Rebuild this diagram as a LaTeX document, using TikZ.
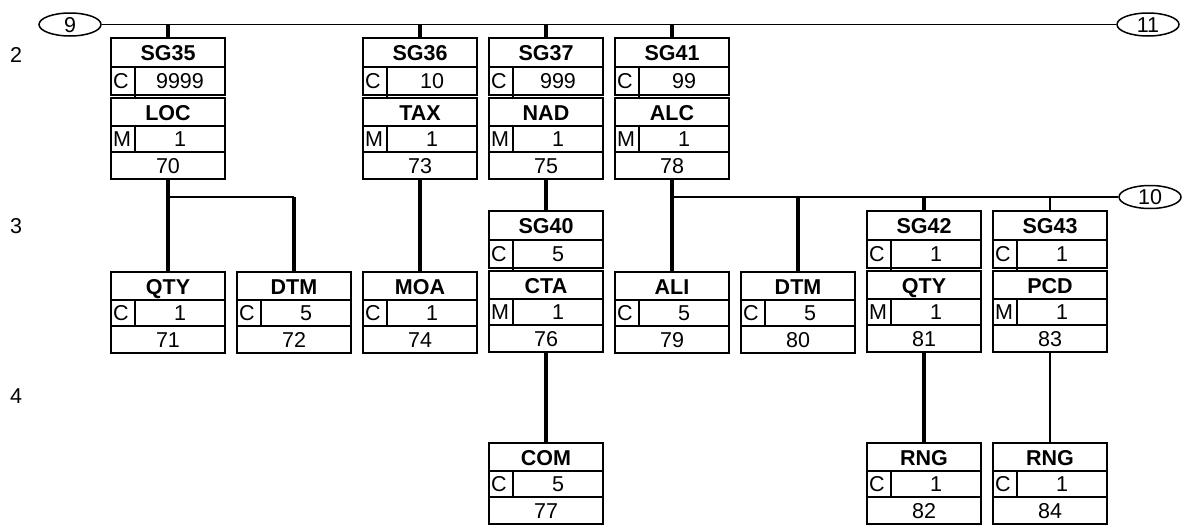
\documentclass[tikz,border=0pt]{standalone}
\usepackage{fontspec}
\setmainfont{Liberation Sans}
\usetikzlibrary{shapes.geometric}
\tikzset{
  frame/.style={draw, line width=1.6pt, minimum width=114pt, inner sep=0pt, outer sep=0pt, anchor=north west},
  segframe/.style={frame, minimum height=81pt},
  sgframe/.style={frame, minimum height=57pt},
  rule/.style={line width=1.5pt},
  boldlabel/.style={font=\fontsize{21.5}{24}\selectfont\bfseries, inner sep=0pt, text height=15.4pt, text depth=0pt},
  plainlabel/.style={font=\fontsize{21.5}{24}\selectfont, inner sep=0pt, text height=15.4pt, text depth=0pt},
  thickconn/.style={line width=3.6pt},
  thinconn/.style={line width=1.5pt},
  marker/.style={ellipse, draw, line width=1.5pt, minimum width=62pt, minimum height=23pt, inner sep=0pt, font=\fontsize{21.5}{24}\selectfont, text height=15.4pt, text depth=0pt}
}
\newcommand\segment[7]{%
  \node[segframe] (#1) at (#2,#3) {};
  \draw[rule] (#1.north west) ++(0,28) -- ++(114,0);
  \draw[rule] (#1.north west) ++(0,54) -- ++(114,0);
  \draw[rule] (#1.north west) ++(24,28) -- ++(0,26);
  \path (#1.north west) ++(57,14.5) node[boldlabel] {#4};
  \path (#1.north west) ++(2,41) node[plainlabel, anchor=west] {#5};
  \path (#1.north west) ++(69,41) node[plainlabel] {#6};
  \path (#1.north west) ++(57,67.5) node[plainlabel] {#7};
}
\newcommand\group[6]{%
  \node[sgframe] (#1) at (#2,#3) {};
  \draw[rule] (#1.north west) ++(0,29) -- ++(114,0);
  \draw[rule] (#1.north west) ++(24,29) -- ++(0,30);
  \path (#1.north west) ++(57,14.5) node[boldlabel] {#4};
  \path (#1.north west) ++(2,43) node[plainlabel, anchor=west] {#5};
  \path (#1.north west) ++(69,43) node[plainlabel] {#6};
}
\begin{document}
\begin{tikzpicture}[x=1pt, y=-1pt]
\useasboundingbox (0,0) rectangle (1182,525);
% level labels
\node[plainlabel] (lv2) at (16,55) {2};
\node[plainlabel] (lv3) at (16,226) {3};
\node[plainlabel] (lv4) at (16,396) {4};
% markers
\node[marker] (m9) at (70,24.5) {9};
\node[marker] (m11) at (1148,24.5) {11};
\node[marker] (m10) at (1150,197) {10};
% level 2
\group{sg35}{111}{38}{SG35}{C}{9999}
\segment{loc}{111}{98}{LOC}{M}{1}{70}
\group{sg36}{363}{38}{SG36}{C}{10}
\segment{tax}{363}{98}{TAX}{M}{1}{73}
\group{sg37}{489}{38}{SG37}{C}{999}
\segment{nad}{489}{98}{NAD}{M}{1}{75}
\group{sg41}{615}{38}{SG41}{C}{99}
\segment{alc}{615}{98}{ALC}{M}{1}{78}
% level 3
\segment{qty71}{111}{272}{QTY}{C}{1}{71}
\segment{dtm72}{237}{272}{DTM}{C}{5}{72}
\segment{moa74}{363}{272}{MOA}{C}{1}{74}
\group{sg40}{489}{211}{SG40}{C}{5}
\segment{cta76}{489}{271}{CTA}{M}{1}{76}
\segment{ali79}{615}{272}{ALI}{C}{5}{79}
\segment{dtm80}{741}{272}{DTM}{C}{5}{80}
\group{sg42}{867}{211}{SG42}{C}{1}
\segment{qty81}{867}{271}{QTY}{M}{1}{81}
\group{sg43}{993}{211}{SG43}{C}{1}
\segment{pcd83}{993}{271}{PCD}{M}{1}{83}
% level 4
\segment{com77}{489}{443}{COM}{C}{5}{77}
\segment{rng82}{867}{443}{RNG}{C}{1}{82}
\segment{rng84}{993}{443}{RNG}{C}{1}{84}
% connectors
\draw[thinconn] (m9.east) -- (m11.west);
\draw[thickconn] (sg35.north |- m9.east) -- (sg35.north);
\draw[thickconn] (sg36.north |- m9.east) -- (sg36.north);
\draw[thickconn] (sg37.north |- m9.east) -- (sg37.north);
\draw[thickconn] (sg41.north |- m9.east) -- (sg41.north);
\coordinate (j1) at (loc.south |- m10.west);
\draw[thinconn] (j1) -- (j1 -| dtm72.north);
\draw[thickconn] (loc.south) -- (qty71.north);
\draw[thickconn] (j1 -| dtm72.north) -- (dtm72.north);
\draw[thickconn] (tax.south) -- (moa74.north);
\draw[thickconn] (nad.south) -- (sg40.north);
\draw[thickconn] (cta76.south) -- (com77.north);
\draw[thinconn] (alc.south |- m10.west) -- (m10.west);
\draw[thickconn] (alc.south) -- (ali79.north);
\draw[thickconn] (dtm80.north |- m10.west) -- (dtm80.north);
\draw[thickconn] (sg42.north |- m10.west) -- (sg42.north);
\draw[thinconn] (sg43.north |- m10.west) -- (sg43.north);
\draw[thickconn] (qty81.south) -- (rng82.north);
\draw[thinconn] (pcd83.south) -- (rng84.north);
\end{tikzpicture}
\end{document}
